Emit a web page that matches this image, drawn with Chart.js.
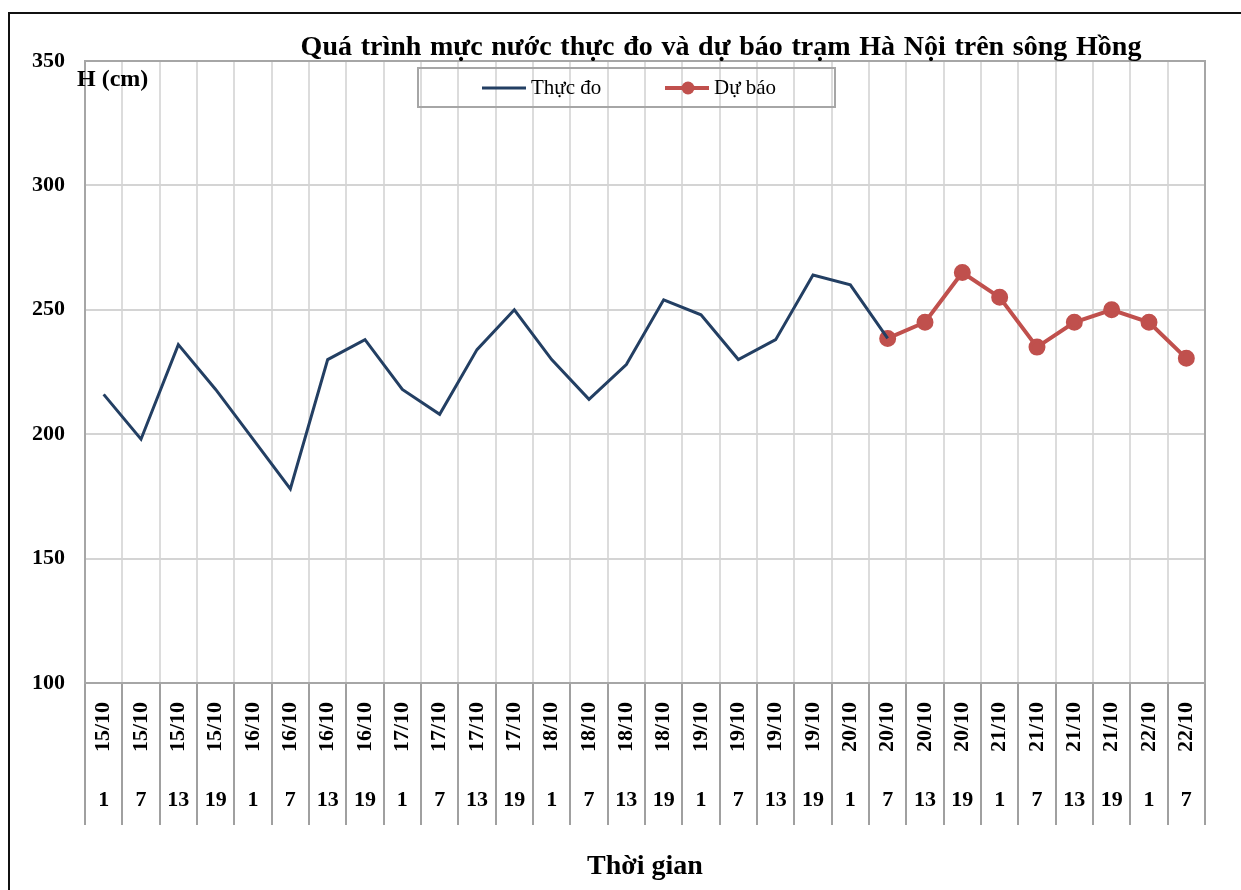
<!DOCTYPE html>
<html lang="vi">
<head>
<meta charset="utf-8">
<title>Quá trình mực nước thực đo và dự báo trạm Hà Nội trên sông Hồng</title>
<script src="https://cdn.jsdelivr.net/npm/chart.js@4.4.0/dist/chart.umd.min.js"></script>
<style>
    html, body { margin: 0; padding: 0; background: #fff; }
    .chart-box { position: relative; width: 1241px; height: 890px; }
</style>
</head>
<body>
<div class="chart-box">
    <canvas id="waterLevelChart" width="1241" height="890"></canvas>
</div>
<script>
// Ngày và giờ trên trục hoành
const dates = ['15/10', '15/10', '15/10', '15/10', '16/10', '16/10', '16/10', '16/10',
    '17/10', '17/10', '17/10', '17/10', '18/10', '18/10', '18/10', '18/10',
    '19/10', '19/10', '19/10', '19/10', '20/10', '20/10', '20/10', '20/10',
    '21/10', '21/10', '21/10', '21/10', '22/10', '22/10'];
const hours = ['1', '7', '13', '19', '1', '7', '13', '19', '1', '7', '13', '19',
    '1', '7', '13', '19', '1', '7', '13', '19', '1', '7', '13', '19',
    '1', '7', '13', '19', '1', '7'];

// Mực nước (cm)
const thucDo = [216, 198, 236, 218, 198, 178, 230, 238, 218, 208, 234, 250, 230, 214,
    228, 254, 248, 230, 238, 264, 260, 238.5];
const duBao = [238.5, 245, 265, 255, 235, 245, 250, 245, 230.5];

// Trục tung
const yMin = 100;
const yMax = 350;
const yStep = 50;

const chartTitle = 'Quá trình mực nước thực đo và dự báo trạm Hà Nội trên sông Hồng';
const yTitle = 'H (cm)';
const xTitle = 'Thời gian';

const FONT = '"Liberation Serif", "Times New Roman", serif';
const NAVY = '#233f63';
const RED = '#c0504d';

document.addEventListener('DOMContentLoaded', function() {
    if (typeof Chart === 'undefined') {
        console.error('Chart.js chưa được tải');
        return;
    }
    initChart();
});

// Vẽ khung, tiêu đề, chú thích và nhãn trục hoành
const decorPlugin = {
    id: 'decor',
    beforeDraw(chart) {
        const ctx = chart.ctx;
        ctx.save();
        ctx.strokeStyle = '#111';
        ctx.lineWidth = 2;
        ctx.strokeRect(9, 13, 1300, 1000);
        ctx.restore();
    },
    afterDraw(chart) {
        const ctx = chart.ctx;
        const area = chart.chartArea;
        const xScale = chart.scales.x;

        ctx.save();
        // viền vùng vẽ
        ctx.strokeStyle = '#a6a6a6';
        ctx.lineWidth = 2;
        ctx.strokeRect(area.left, area.top, area.right - area.left, area.bottom - area.top);

        // tiêu đề
        ctx.fillStyle = '#000';
        ctx.font = 'bold 28px ' + FONT;
        ctx.wordSpacing = '1.7px';
        ctx.textAlign = 'center';
        ctx.textBaseline = 'alphabetic';
        ctx.fillText(chartTitle, 721, 55);
        ctx.wordSpacing = '0px';

        // nhãn trục tung
        ctx.font = 'bold 24px ' + FONT;
        ctx.textAlign = 'left';
        ctx.fillText(yTitle, 77, 86);

        // nhãn trục hoành: ngày xoay dọc, giờ nằm ngang
        ctx.font = 'bold 22px ' + FONT;
        dates.forEach((d, i) => {
            const x = xScale.getPixelForValue(i);
            ctx.save();
            ctx.translate(x, area.bottom + 19);
            ctx.rotate(-Math.PI / 2);
            ctx.textAlign = 'right';
            ctx.textBaseline = 'middle';
            ctx.fillText(d, 0, 0);
            ctx.restore();
        });
        ctx.textAlign = 'center';
        ctx.textBaseline = 'middle';
        hours.forEach((h, i) => {
            ctx.fillText(h, xScale.getPixelForValue(i), area.bottom + 117);
        });

        // chú thích
        drawLegend(ctx, chart);
        ctx.restore();
    }
};

function drawLegend(ctx, chart) {
    ctx.strokeStyle = '#a6a6a6';
    ctx.lineWidth = 2;
    ctx.strokeRect(418, 68, 417, 39);

    const items = chart.data.datasets;
    const slots = [482, 665];
    ctx.font = '21px ' + FONT;
    ctx.textAlign = 'left';
    ctx.textBaseline = 'middle';
    items.forEach((ds, i) => {
        const x = slots[i];
        const y = 88;
        ctx.strokeStyle = ds.borderColor;
        ctx.lineWidth = ds.borderWidth;
        ctx.beginPath();
        ctx.moveTo(x, y);
        ctx.lineTo(x + 44, y);
        ctx.stroke();
        if (ds.pointRadius > 0) {
            ctx.fillStyle = ds.pointBackgroundColor;
            ctx.beginPath();
            ctx.arc(x + 23, y, ds.pointRadius, 0, Math.PI * 2);
            ctx.fill();
        }
        ctx.fillStyle = '#000';
        ctx.fillText(ds.label, x + 49, y);
    });
}

function initChart() {
    const ctx = document.getElementById('waterLevelChart');
    const labels = dates.map((d, i) => d + ' ' + hours[i]);
    const duBaoStart = thucDo.length - 1;

    new Chart(ctx, {
        type: 'line',
        data: {
            labels: labels,
            datasets: [{
                label: 'Thực đo',
                data: labels.map((_, i) => i < thucDo.length ? thucDo[i] : null),
                borderColor: NAVY,
                backgroundColor: NAVY,
                borderWidth: 3,
                pointRadius: 0,
                pointHoverRadius: 0,
                tension: 0
            }, {
                label: 'Dự báo',
                data: labels.map((_, i) => i >= duBaoStart ? duBao[i - duBaoStart] : null),
                borderColor: RED,
                backgroundColor: RED,
                pointBackgroundColor: RED,
                pointBorderColor: RED,
                borderWidth: 4,
                pointRadius: 6.5,
                pointHoverRadius: 6.5,
                tension: 0
            }]
        },
        options: {
            responsive: false,
            animation: false,
            layout: {
                padding: { left: 0, top: 61, right: 36, bottom: 0 }
            },
            plugins: {
                legend: { display: false },
                title: { display: false },
                tooltip: { enabled: false }
            },
            scales: {
                x: {
                    type: 'category',
                    offset: true,
                    afterFit(scale) { scale.height = 207; },
                    grid: {
                        offset: true,
                        color: '#dcdcdc',
                        lineWidth: 2,
                        tickColor: '#a0a0a0',
                        tickLength: 142,
                        tickWidth: 2
                    },
                    border: { color: '#a0a0a0', width: 2 },
                    ticks: { display: false },
                    title: {
                        display: true,
                        text: xTitle,
                        color: '#000',
                        font: { family: FONT, size: 28, weight: 'bold' },
                        padding: { top: 0, bottom: 6 }
                    }
                },
                y: {
                    min: yMin,
                    max: yMax,
                    afterFit(scale) { scale.width = 85; },
                    ticks: {
                        stepSize: yStep,
                        padding: 20,
                        color: '#000',
                        font: { family: FONT, size: 22, weight: 'bold' }
                    },
                    grid: {
                        color: '#d4d4d4',
                        lineWidth: 2,
                        drawTicks: false
                    },
                    border: { color: '#a0a0a0', width: 2 }
                }
            }
        },
        plugins: [decorPlugin]
    });
}
</script>
</body>
</html>
